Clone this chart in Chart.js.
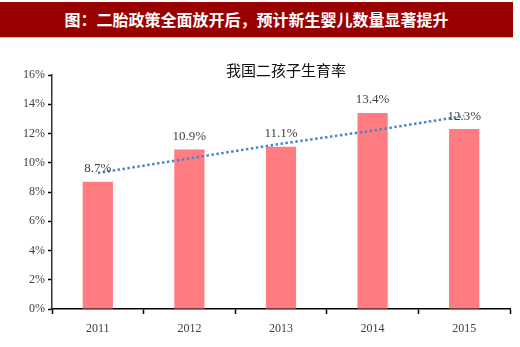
<!DOCTYPE html>
<html>
<head>
<meta charset="utf-8">
<script src="https://cdn.jsdelivr.net/npm/chart.js@4/dist/chart.umd.min.js"></script>
<style>
  html, body { margin: 0; padding: 0; background: #fff; }
  #wrap { position: relative; width: 520px; height: 347px; overflow: hidden; }
  #banner {
    position: absolute; left: 0; top: 2px; width: 513px; height: 35px;
    background: #990000; color: #fff; text-align: center;
    font: bold 16px "Noto Sans CJK SC", sans-serif; line-height: 35px;
    border-bottom: 1px solid #e8b0b0;
  }
  #subtitle {
    position: absolute; left: 0; top: 60px; width: 572px; text-align: center;
    font: 15px "Noto Sans CJK SC", sans-serif; color: #111; line-height: 20px;
  }
  canvas { position: absolute; left: 0; top: 0; }
</style>
</head>
<body>
<div id="wrap">
  <canvas id="chart" width="520" height="347"></canvas>
  <div id="banner">图：二胎政策全面放开后，预计新生婴儿数量显著提升</div>
  <div id="subtitle">我国二孩子生育率</div>
</div>
<script>
// years on the x axis
const years = ['2011', '2012', '2013', '2014', '2015'];
// second-child birth rate, in percent
const rates = [8.7, 10.9, 11.1, 13.4, 12.3];
// dotted trend line
const trend = [9.3, 10.3, 11.3, 12.2, 13.2];

// draws the value labels above each bar (bars are dataset 1)
const barLabels = {
  id: 'barLabels',
  afterDatasetsDraw(chart) {
    const ctx = chart.ctx;
    const meta = chart.getDatasetMeta(1);
    ctx.save();
    ctx.font = '13px "Liberation Serif", serif';
    ctx.fillStyle = '#404040';
    ctx.textAlign = 'center';
    ctx.textBaseline = 'middle';
    meta.data.forEach((bar, i) => {
      ctx.fillText(rates[i].toFixed(1) + '%', bar.x, bar.y - 13);
    });
    ctx.restore();
  }
};

const tickFont = { family: '"Liberation Serif", serif', size: 12 };

new Chart(document.getElementById('chart'), {
  type: 'bar',
  data: {
    labels: years,
    datasets: [{
      type: 'line',
      data: trend,
      borderColor: '#4a86c8',
      borderWidth: 2.5,
      borderDash: [2.5, 2.5],
      pointRadius: 0,
      fill: false,
      order: 0
    }, {
      type: 'bar',
      data: rates,
      backgroundColor: '#ff7c80',
      barPercentage: 0.33,
      categoryPercentage: 1,
      order: 1
    }]
  },
  options: {
    responsive: false,
    animation: false,
    layout: { padding: { top: 75, right: 10, left: 0, bottom: 0 } },
    plugins: {
      legend: { display: false },
      tooltip: { enabled: false }
    },
    scales: {
      x: {
        offset: true,
        grid: {
          display: true, drawOnChartArea: false, offset: true,
          color: '#000', tickLength: 5, tickWidth: 1.5
        },
        border: { color: '#000', width: 1.5 },
        ticks: { font: tickFont, color: '#404040', padding: 8 },
        afterFit(axis) { axis.height = 38; }
      },
      y: {
        min: 0, max: 16,
        grid: {
          display: true, drawOnChartArea: false,
          color: '#000', tickLength: 4, tickWidth: 1.5
        },
        border: { color: '#333', width: 1.5 },
        ticks: {
          stepSize: 2, font: tickFont, color: '#404040', padding: 3,
          callback: v => v + '%'
        },
        afterFit(axis) { axis.width = 52; }
      }
    }
  },
  plugins: [barLabels]
});
</script>
</body>
</html>
